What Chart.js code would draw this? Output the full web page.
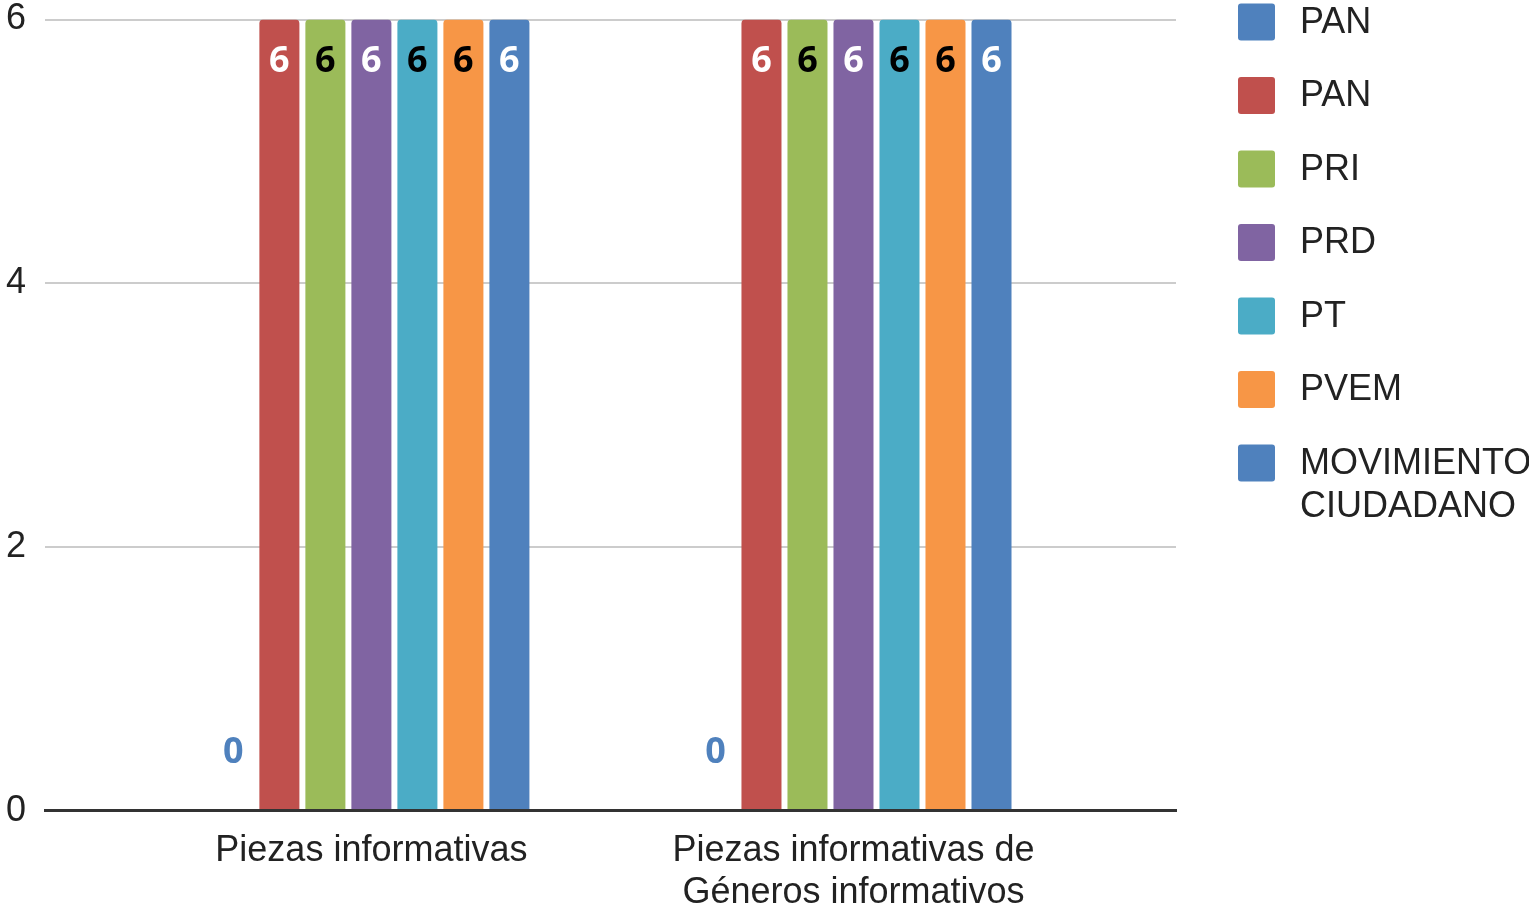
<!DOCTYPE html>
<html>
<head>
<meta charset="utf-8">
<script src="https://cdn.jsdelivr.net/npm/chart.js@4.4.1/dist/chart.umd.min.js"></script>
<style>
  html, body { margin: 0; padding: 0; background: #fff; }
  canvas { display: block; }
</style>
</head>
<body>
<canvas id="chart" width="1529" height="909"></canvas>
<script>
// categories (second one wraps on two lines like the original)
const categories = ['Piezas informativas', ['Piezas informativas de', 'Géneros informativos']];
const parties = ['PAN', 'PAN', 'PRI', 'PRD', 'PT', 'PVEM', 'MOVIMIENTO CIUDADANO'];

// one small array per series, one value per category
const panBlue = [0, 0];
const panRed = [6, 6];
const pri = [6, 6];
const prd = [6, 6];
const pt = [6, 6];
const pvem = [6, 6];
const movimiento = [6, 6];

const yTicks = [0, 2, 4, 6];

const colors = ['#4F81BD', '#C0504D', '#9BBB59', '#8064A2', '#4BACC6', '#F79646', '#4F81BD'];
const labelColors = ['#4F81BD', '#FFFFFF', '#000000', '#FFFFFF', '#000000', '#000000', '#FFFFFF'];

const FONT = '"Liberation Sans", Arial, sans-serif';

// wrap legend text on words when it doesn't fit
function wrapText(ctx, text, maxWidth) {
    const words = text.split(' ');
    const lines = [];
    let line = '';
    words.forEach(w => {
        const test = line ? line + ' ' + w : w;
        if (line && ctx.measureText(test).width > maxWidth) {
            lines.push(line);
            line = w;
        } else {
            line = test;
        }
    });
    if (line) lines.push(line);
    return lines;
}

const sideLegend = {
    id: 'sideLegend',
    afterDraw(chart) {
        const ctx = chart.ctx;
        const boxX = chart.chartArea.right + 62;
        const textX = boxX + 62;
        const maxW = chart.width - textX;
        ctx.save();
        ctx.font = '36px ' + FONT;
        ctx.textBaseline = 'middle';
        ctx.textAlign = 'left';
        chart.data.datasets.forEach((ds, i) => {
            const cy = 22 + i * 73.5;
            ctx.fillStyle = ds.backgroundColor;
            ctx.beginPath();
            ctx.roundRect(boxX, cy - 18.5, 37, 37, 3);
            ctx.fill();
            ctx.fillStyle = '#222222';
            wrapText(ctx, ds.label, maxW).forEach((line, j) => {
                ctx.fillText(line, textX, cy + 1 + j * 43);
            });
        });
        ctx.restore();
    }
};

// value labels: inside the top of the bar, or above it when the bar is empty
const valueLabels = {
    id: 'valueLabels',
    afterDatasetsDraw(chart) {
        const ctx = chart.ctx;
        ctx.save();
        ctx.font = 'bold 36px "Open Sans", sans-serif';
        ctx.textAlign = 'center';
        ctx.textBaseline = 'middle';
        chart.data.datasets.forEach((ds, di) => {
            chart.getDatasetMeta(di).data.forEach((bar, i) => {
                const v = ds.data[i];
                const inside = v > 0;
                ctx.fillStyle = inside ? labelColors[di] : ds.backgroundColor;
                ctx.fillText(String(v), bar.x, inside ? bar.y + 42 : bar.y - 58);
            });
        });
        ctx.restore();
    }
};

const series = [panBlue, panRed, pri, prd, pt, pvem, movimiento];

new Chart(document.getElementById('chart').getContext('2d'), {
    type: 'bar',
    data: {
        labels: categories.map((c, i) => i),
        datasets: series.map((values, i) => ({
            label: parties[i],
            data: values,
            backgroundColor: colors[i],
            borderWidth: 0,
            borderRadius: { topLeft: 4, topRight: 4, bottomLeft: 0, bottomRight: 0 },
            borderSkipped: 'start',
            categoryPercentage: 0.668,
            barPercentage: 0.87
        }))
    },
    options: {
        responsive: false,
        animation: false,
        layout: { padding: { left: -13, right: 353, top: 0, bottom: -24 } },
        plugins: {
            legend: { display: false },
            tooltip: { enabled: false }
        },
        scales: {
            x: {
                type: 'linear',
                min: -0.677,
                max: 1.669,
                offset: false,
                afterBuildTicks: scale => { scale.ticks = categories.map((c, i) => ({ value: i })); },
                grid: { display: false, drawTicks: false },
                border: { display: true, color: '#333333', width: 3, z: 1 },
                ticks: {
                    autoSkip: false,
                    maxRotation: 0,
                    padding: 19,
                    color: '#222222',
                    font: { family: FONT, size: 36, lineHeight: 1.17 },
                    callback: v => categories[v]
                }
            },
            y: {
                min: 0,
                max: 6,
                afterBuildTicks: scale => { scale.ticks = yTicks.map(v => ({ value: v })); },
                grid: {
                    color: ctx => ctx.tick && ctx.tick.value === 0 ? 'rgba(0,0,0,0)' : '#CCCCCC',
                    lineWidth: 2,
                    drawTicks: false
                },
                border: { display: false },
                ticks: {
                    padding: 19,
                    color: '#222222',
                    // tiny line height keeps the top label from pushing the plot down
                    font: { family: FONT, size: 36, lineHeight: 0.03 }
                }
            }
        }
    },
    plugins: [valueLabels, sideLegend]
});
</script>
</body>
</html>
